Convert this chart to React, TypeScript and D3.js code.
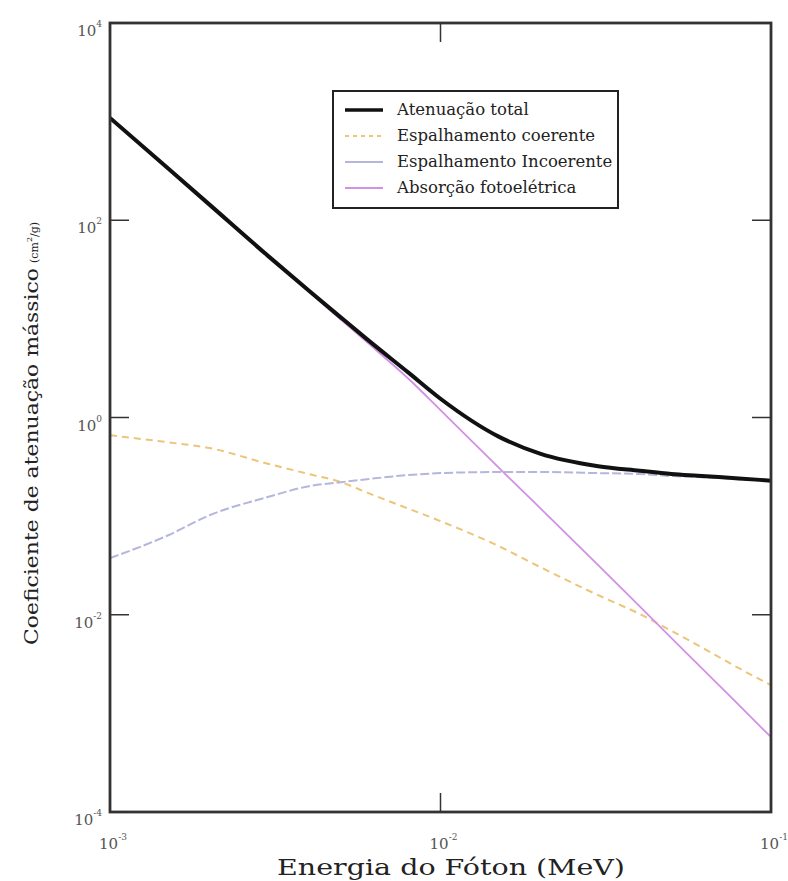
import React, { useEffect } from 'react';
import * as d3 from 'd3';

// photon energy grid (MeV)
const energy = [0.001, 0.0015, 0.002, 0.003, 0.004, 0.005, 0.006, 0.008, 0.01, 0.015, 0.02, 0.03, 0.04, 0.05, 0.06, 0.08, 0.1];

// mass attenuation coefficients (cm2/g)
const totalAtt = [1089, 334, 144, 43.8, 19.3, 10.3, 6.2, 2.85, 1.55, 0.64, 0.43, 0.321, 0.289, 0.268, 0.257, 0.241, 0.229];
const coherent = [0.66, 0.56, 0.49, 0.34, 0.267, 0.221, 0.173, 0.119, 0.089, 0.0497, 0.0305, 0.0158, 0.0102, 0.00686, 0.00492, 0.00287, 0.00193];
const incoherent = [0.0375, 0.064, 0.102, 0.156, 0.201, 0.221, 0.237, 0.261, 0.273, 0.28, 0.28, 0.273, 0.267, 0.255, 0.249, 0.237, 0.226];
const photo = [1089, 333, 143, 43.4, 18.8, 9.8, 5.77, 2.47, 1.19, 0.31, 0.121, 0.0319, 0.0122, 0.00579, 0.00316, 0.00121, 0.000574];

const xTicks = [1e-3, 1e-2, 1e-1];
const xTickExp = ['-3', '-2', '-1'];
const yTicks = [1e-4, 1e-2, 1, 1e2, 1e4];
const yTickExp = ['-4', '-2', '0', '2', '4'];

const seriesNames = ['Atenuação total', 'Espalhamento coerente', 'Espalhamento Incoerente', 'Absorção fotoelétrica'];

const FONT = '"DejaVu Serif", serif';

export default function App() {
  useEffect(() => {
    document.body.style.margin = '0';
  }, []);

  const left = 110, right = 771, top = 23, bottom = 812;
  const x = d3.scaleLog().domain([1e-3, 1e-1]).range([left, right]);
  const y = d3.scaleLog().domain([1e-4, 1e4]).range([bottom, top]);

  const line = d3.line<number>()
    .x((d, i) => x(energy[i]))
    .y(d => y(d))
    .curve(d3.curveMonotoneX);

  const styles = [
    { data: totalAtt, stroke: '#111', width: 4, dash: undefined },
    { data: coherent, stroke: '#ecc47a', width: 2, dash: '7,5' },
    { data: incoherent, stroke: '#b4b6dc', width: 2, dash: '9,3' },
    { data: photo, stroke: '#d490e4', width: 1.8, dash: undefined },
  ];

  const tickLen = 19;
  const lx = 333, ly = 91, lw = 285, lh = 117;

  return (
    <svg width={788} height={881} style={{ display: 'block', background: '#fff' }}>
      <defs>
        <clipPath id="plot">
          <rect x={left} y={top} width={right - left} height={bottom - top} />
        </clipPath>
      </defs>

      {/* curves */}
      <g clipPath="url(#plot)">
        {[1, 2, 3, 0].map(k => (
          <path key={k} d={line(styles[k].data) || ''} fill="none"
            stroke={styles[k].stroke} strokeWidth={styles[k].width}
            strokeDasharray={styles[k].dash} strokeLinejoin="round" />
        ))}
      </g>

      {/* frame */}
      <rect x={left} y={top} width={right - left} height={bottom - top}
        fill="none" stroke="#333" strokeWidth={2.8} />

      {/* ticks */}
      {xTicks.map((t, i) => (
        <g key={'x' + i}>
          <line x1={x(t)} x2={x(t)} y1={bottom} y2={bottom - tickLen} stroke="#333" strokeWidth={1.5} />
          <line x1={x(t)} x2={x(t)} y1={top} y2={top + tickLen} stroke="#333" strokeWidth={1.5} />
          <text x={x(t) + 3} y={849} textAnchor="middle" fontFamily={FONT} fontSize={15} fill="#555">
            10<tspan dy={-9} fontSize={9}>{xTickExp[i]}</tspan>
          </text>
        </g>
      ))}
      {yTicks.map((t, i) => (
        <g key={'y' + i}>
          <line x1={left} x2={left + tickLen} y1={y(t)} y2={y(t)} stroke="#333" strokeWidth={1.5} />
          <line x1={right} x2={right - tickLen} y1={y(t)} y2={y(t)} stroke="#333" strokeWidth={1.5} />
          <text x={102} y={y(t) + 13} textAnchor="end" fontFamily={FONT} fontSize={15} fill="#555">
            10<tspan dy={-9} fontSize={9}>{yTickExp[i]}</tspan>
          </text>
        </g>
      ))}

      {/* axis titles */}
      <text x={451} y={875} textAnchor="middle" fontFamily={FONT} fontSize={22} fill="#222"
        textLength={348} lengthAdjust="spacingAndGlyphs">Energia do Fóton (MeV)</text>
      <g transform="translate(38,0) rotate(-90)">
        <text x={-645} y={0} fontFamily={FONT} fontSize={18} fill="#222"
          textLength={377} lengthAdjust="spacingAndGlyphs">Coeficiente de atenuação mássico</text>
        <text x={-263} y={0} fontFamily={FONT} fontSize={11} fill="#222">
          (cm<tspan fontSize={8} dy={-6}>2</tspan><tspan dy={6}>/g)</tspan>
        </text>
      </g>

      {/* legend */}
      <rect x={lx} y={ly} width={lw} height={lh} fill="#fff" stroke="#222" strokeWidth={2} />
      {seriesNames.map((name, i) => {
        const rowY = ly + 19 + i * 26;
        const s = styles[i];
        return (
          <g key={name}>
            <line x1={lx + 12} x2={lx + 50} y1={rowY} y2={rowY} stroke={s.stroke}
              strokeWidth={s.width === 4 ? 3.5 : 2} strokeDasharray={i === 1 ? '4,4' : undefined} />
            <text x={lx + 64} y={rowY + 5} fontFamily={FONT} fontSize={16.5} fill="#222">{name}</text>
          </g>
        );
      })}
    </svg>
  );
}
